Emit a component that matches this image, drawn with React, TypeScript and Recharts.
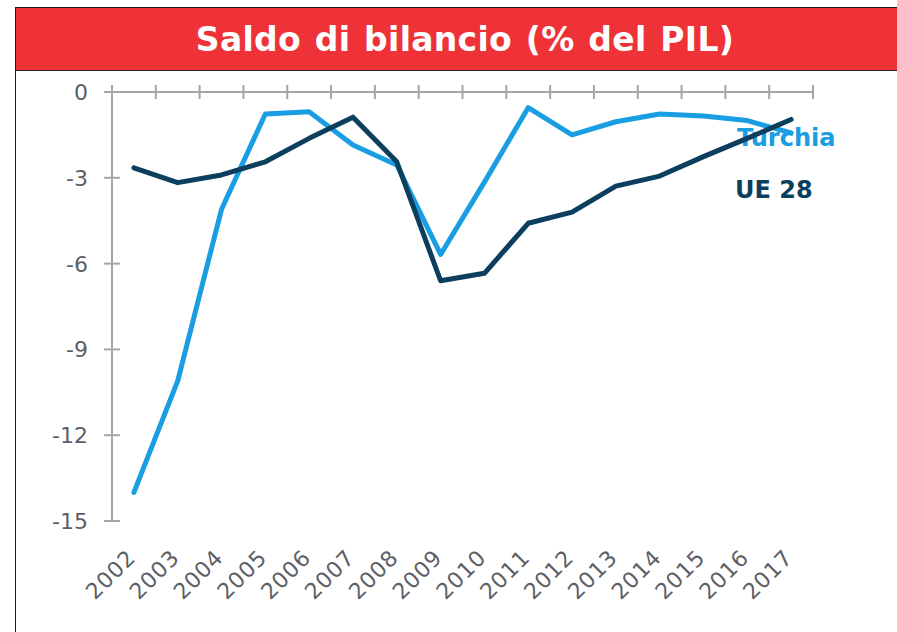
import React from "react";
import { LineChart, Line, XAxis, YAxis } from "recharts";

const years = [2002, 2003, 2004, 2005, 2006, 2007, 2008, 2009, 2010, 2011, 2012, 2013, 2014, 2015, 2016, 2017];
const turchia = [-14.0, -10.1, -4.1, -0.77, -0.69, -1.85, -2.55, -5.68, -3.15, -0.55, -1.5, -1.04, -0.77, -0.84, -1.0, -1.43];
const ue28 = [-2.65, -3.17, -2.9, -2.44, -1.62, -0.88, -2.44, -6.6, -6.34, -4.59, -4.2, -3.29, -2.94, -2.26, -1.62, -0.96];
const yTicks = [0, -3, -6, -9, -12, -15];

// band edges for the tick marks on the top axis
const bandEdges = [...years.map((y) => y - 0.5), years[years.length - 1] + 0.5];
const xDomain = [bandEdges[0], bandEdges[bandEdges.length - 1]];

const data = years.map((year, i) => ({ year, Turchia: turchia[i], "UE 28": ue28[i] }));

const AXIS = "#a3a5aa";
const LABEL = "#5c5f67";
const LIGHT = "#199de3";
const DARK = "#0c3f5e";
const FONT = "'DejaVu Sans', Verdana, sans-serif";

const YTick = (props: any) => {
  const { x, y, payload } = props;
  return (
    <g>
      <line x1={x} x2={x + 16} y1={y} y2={y} stroke={AXIS} strokeWidth={2} />
      <text x={x - 16} y={y} dy="0.36em" textAnchor="end" fontSize={22} fill={LABEL} fontFamily={FONT}>
        {payload.value}
      </text>
    </g>
  );
};

const TopTick = (props: any) => {
  const { x, y } = props;
  return <line x1={x} x2={x} y1={y} y2={y + 14} stroke={AXIS} strokeWidth={2} />;
};

const BottomTick = (props: any) => {
  const { x, y, payload } = props;
  return (
    <g transform={`translate(${x + 3},${y + 38}) rotate(-45)`}>
      <text x={0} y={0} textAnchor="end" fontSize={22} letterSpacing={0.8} fill={LABEL} fontFamily={FONT}>
        {payload.value}
      </text>
    </g>
  );
};

export default function App() {
  return (
    <div
      style={{
        position: "absolute",
        left: 0,
        top: 0,
        width: 897,
        height: 632,
        background: "#fff",
        overflow: "hidden",
        fontFamily: FONT,
      }}
    >
      <div
        style={{
          position: "absolute",
          left: 15,
          top: 7,
          width: 900,
          height: 640,
          borderLeft: "1.5px solid #1b1b1b",
          borderTop: "1.5px solid #1b1b1b",
        }}
      />
      <div
        style={{
          position: "absolute",
          left: 16,
          top: 8,
          width: 898,
          height: 62,
          background: "#ee3237",
          borderBottom: "1.5px solid #222",
          color: "#fff",
          fontWeight: "bold",
          fontSize: 33,
          letterSpacing: 0.3,
          wordSpacing: 2,
          lineHeight: "64px",
          textAlign: "center",
          whiteSpace: "nowrap",
        }}
      >
        Saldo di bilancio (% del PIL)
      </div>
      <svg width={897} height={632} style={{ position: "absolute", left: 0, top: 0 }}>
        <text x={737} y={146} fontSize={24} fontWeight="bold" fill={LIGHT} fontFamily={FONT}>
          Turchia
        </text>
        <text x={735} y={198} fontSize={24} fontWeight="bold" fill={DARK} fontFamily={FONT}>
          UE 28
        </text>
      </svg>
      <div style={{ position: "absolute", left: 0, top: 0 }}>
        <LineChart width={897} height={632} data={data} margin={{ top: 82, right: 84, bottom: 31, left: 52 }}>
          <XAxis
            xAxisId="top"
            orientation="top"
            dataKey="year"
            type="number"
            domain={xDomain}
            allowDataOverflow
            ticks={bandEdges}
            interval={0}
            height={10}
            tickSize={7}
            tickMargin={0}
            tickLine={false}
            axisLine={{ stroke: AXIS, strokeWidth: 2 }}
            tick={<TopTick />}
          />
          <XAxis
            xAxisId="bottom"
            orientation="bottom"
            dataKey="year"
            type="number"
            domain={xDomain}
            allowDataOverflow
            ticks={years}
            interval={0}
            height={80}
            tickSize={0}
            tickMargin={0}
            tickLine={false}
            axisLine={false}
            tick={<BottomTick />}
          />
          <YAxis
            type="number"
            domain={[-15, 0]}
            ticks={yTicks}
            interval={0}
            width={60}
            tickSize={8}
            tickMargin={0}
            tickLine={false}
            axisLine={{ stroke: AXIS, strokeWidth: 2 }}
            tick={<YTick />}
          />
          <Line
            xAxisId="bottom"
            type="linear"
            dataKey="Turchia"
            stroke={LIGHT}
            strokeWidth={5}
            strokeLinecap="round"
            strokeLinejoin="round"
            dot={false}
            isAnimationActive={false}
          />
          <Line
            xAxisId="bottom"
            type="linear"
            dataKey="UE 28"
            stroke={DARK}
            strokeWidth={5}
            strokeLinecap="round"
            strokeLinejoin="round"
            dot={false}
            isAnimationActive={false}
          />
        </LineChart>
      </div>
    </div>
  );
}
